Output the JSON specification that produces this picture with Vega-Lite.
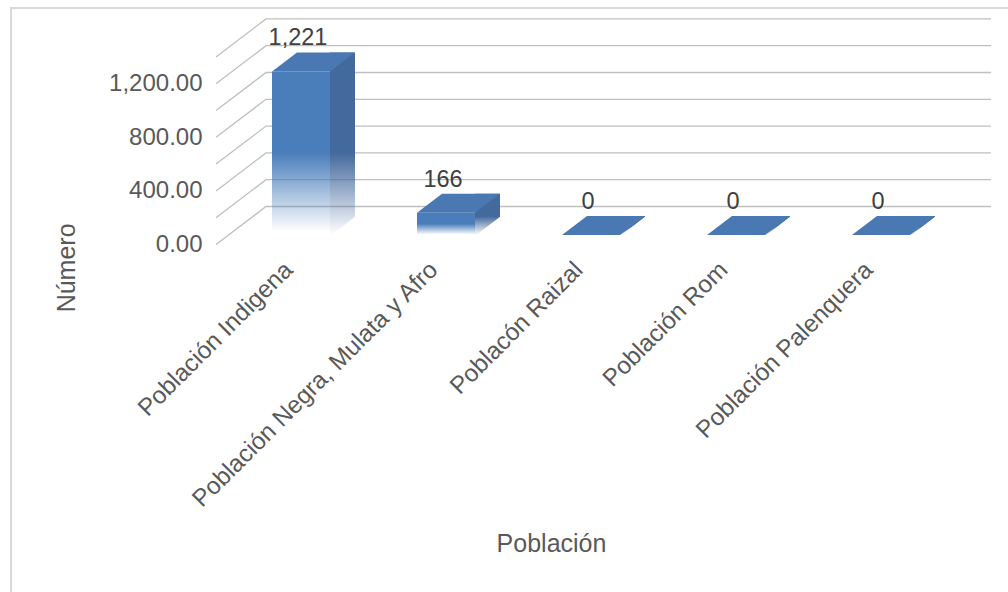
{
  "$schema": "https://vega.github.io/schema/vega-lite/v6.json",
  "width": 725, "height": 187.6,
  "autosize": {"type": "none"},
  "padding": {"left": 228.5, "top": 47.4, "right": 54.5, "bottom": 357},
  "background": "white",
  "config": {"view": {"stroke": null}},
  "datasets": {
    "pob": [
      {"p": "Población Indigena", "n": 1221},
      {"p": "Población Negra, Mulata y Afro", "n": 166},
      {"p": "Poblacón Raizal", "n": 0},
      {"p": "Población Rom", "n": 0},
      {"p": "Población Palenquera", "n": 0}
    ],
    "grid": [{"v": 0},{"v": 200},{"v": 400},{"v": 600},{"v": 800},{"v": 1000},{"v": 1200},{"v": 1400}],
    "frame": [{"v": 0}]
  },
  "layer": [
    {
      "data": {"name": "frame"},
      "mark": {"type": "point", "shape": "M-217.5,600L-217.5,-39.4L900,-39.4", "size": 4, "filled": false, "stroke": "#d9d9d9", "strokeWidth": 2, "opacity": 1},
      "encoding": {"x": {"value": 0}, "y": {"value": 0}}
    },
    {
      "data": {"name": "grid"},
      "mark": {"type": "point", "shape": "M-12.5,9.5L37.5,-28.5L762.5,-28.5", "size": 4, "filled": false, "stroke": "#bfbfbf", "strokeWidth": 1.3, "opacity": 1},
      "encoding": {
        "x": {"value": 0},
        "y": {"field": "v", "type": "quantitative", "scale": {"domain": [0, 1400]},
          "axis": {"values": [0, 400, 800, 1200], "format": ",.2f", "domain": false, "ticks": false, "grid": false,
            "labelFont": "Liberation Sans", "labelFontSize": 24, "labelColor": "#595959", "labelPadding": 26.5, "labelOffset": 9.5,
            "title": "Número", "titleFont": "Liberation Sans", "titleFontSize": 25, "titleFontWeight": "normal", "titleColor": "#595959",
            "titleX": -162.5, "titleY": 220, "titleAlign": "center", "titleBaseline": "middle", "labelOverlap": false}}
      }
    },
    {
      "data": {"name": "pob"},
      "mark": {"type": "bar", "width": 25, "xOffset": 41.5, "yOffset": -19,
        "color": {"gradient": "linear", "x1": 0, "y1": 0, "x2": 0, "y2": 1, "stops": [
          {"offset": 0, "color": "#44699c"}, {"offset": 0.55, "color": "#44699c"}, {"offset": 1, "color": "rgba(68,105,156,0)"}]}},
      "encoding": {
        "x": {"field": "p", "type": "nominal", "sort": null,
          "scale": {"paddingInner": 0, "paddingOuter": 0},
          "axis": {"labelAngle": -45, "labelAlign": "right", "labelBaseline": "middle", "domain": false, "ticks": false, "grid": false,
            "labelFont": "Liberation Sans", "labelFontSize": 24.3, "labelColor": "#595959", "labelPadding": 31, "labelOffset": -12, "labelLimit": 600, "labelOverlap": false, "labelBound": false,
            "title": "Población", "titleFont": "Liberation Sans", "titleFontSize": 25, "titleFontWeight": "normal", "titleColor": "#595959",
            "titleX": 322.5, "titleY": 308, "titleAlign": "center", "titleBaseline": "middle"}},
        "y": {"field": "n", "type": "quantitative"},
        "y2": {"datum": 0}
      }
    },
    {
      "data": {"name": "pob"},
      "mark": {"type": "point", "shape": "M29,1L55,1L55,-19Z", "size": 4, "filled": true, "fill": "white", "opacity": 1},
      "encoding": {
        "x": {"field": "p", "type": "nominal", "sort": null},
        "y": {"datum": 0}
      }
    },
    {
      "data": {"name": "pob"},
      "mark": {"type": "bar", "width": 58,
        "color": {"gradient": "linear", "x1": 0, "y1": 0, "x2": 0, "y2": 1, "stops": [
          {"offset": 0, "color": "#4a7ebb"}, {"offset": 0.5, "color": "#4a7ebb"}, {"offset": 0.98, "color": "rgba(74,126,187,0)"}, {"offset": 1, "color": "rgba(74,126,187,0)"}]}},
      "encoding": {
        "x": {"field": "p", "type": "nominal", "sort": null},
        "y": {"field": "n", "type": "quantitative"}
      }
    },
    {
      "data": {"name": "pob"},
      "mark": {"type": "point", "shape": "M-29,0L29,0L54,-19L-4,-19Z", "size": 4, "filled": true, "fill": "#4a78b3", "opacity": 1},
      "encoding": {
        "x": {"field": "p", "type": "nominal", "sort": null},
        "y": {"field": "n", "type": "quantitative"}
      }
    },
    {
      "data": {"name": "pob"},
      "mark": {"type": "text", "dx": -3, "dy": -33, "baseline": "middle", "align": "center", "font": "Liberation Sans", "fontSize": 23.5, "color": "#404040"},
      "encoding": {
        "x": {"field": "p", "type": "nominal", "sort": null},
        "y": {"field": "n", "type": "quantitative"},
        "text": {"field": "n", "type": "quantitative", "format": ",d"}
      }
    }
  ]
}
